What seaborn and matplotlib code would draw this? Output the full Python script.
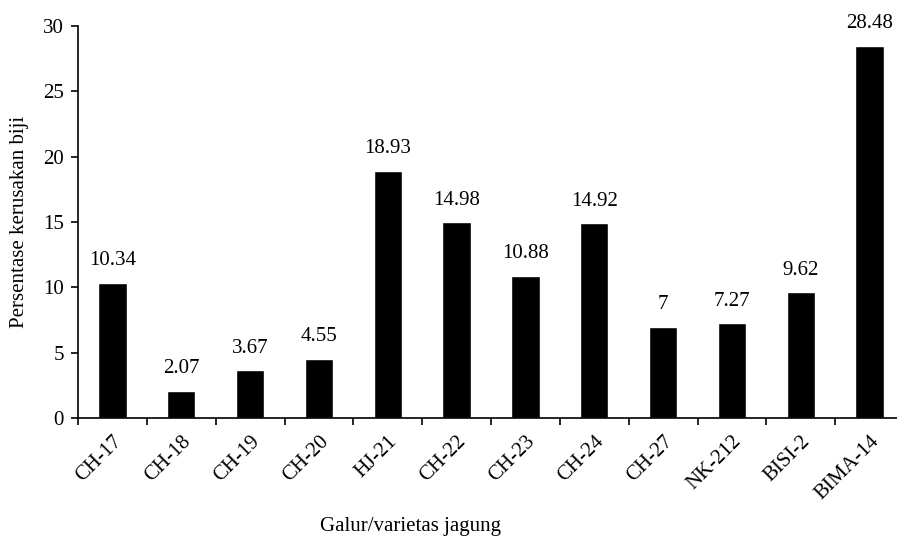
import matplotlib
matplotlib.use("Agg")
import matplotlib.pyplot as plt
import seaborn as sns
import pandas as pd
from matplotlib.ticker import FixedLocator

categories = ["CH-17", "CH-18", "CH-19", "CH-20", "HJ-21", "CH-22", "CH-23",
              "CH-24", "CH-27", "NK-212", "BISI-2", "BIMA-14"]
values = [10.34, 2.07, 3.67, 4.55, 18.93, 14.98, 10.88, 14.92, 7, 7.27, 9.62, 28.48]
value_labels = ["10.34", "2.07", "3.67", "4.55", "18.93", "14.98", "10.88",
                "14.92", "7", "7.27", "9.62", "28.48"]
y_ticks = [0, 5, 10, 15, 20, 25, 30]

sns.set_theme(style="white")
plt.rcParams['font.family'] = ['Liberation Serif', 'DejaVu Serif']

FS = 15

df = pd.DataFrame({"cat": categories, "val": values})

fig = plt.figure(figsize=(8.97, 5.39), dpi=100)
ax = fig.add_axes([78/897, 1-418/539, (904-78)/897, (418-26)/539])

sns.barplot(data=df, x="cat", y="val", color="black", width=0.41,
            saturation=1, ax=ax)

ax.bar_label(ax.containers[0], labels=value_labels, padding=9,
             fontsize=FS, color="black")

ax.set_xlim(-0.5, len(categories) - 0.5)
ax.set_ylim(0, 30)
ax.set_yticks(y_ticks)
ax.set_yticklabels([str(t) for t in y_ticks], fontsize=FS, color="black")
ax.set_xticks(range(len(categories)))
ax.set_xticklabels(categories, rotation=45, ha="right", rotation_mode="anchor",
                   fontsize=FS, color="black")
ax.xaxis.set_minor_locator(FixedLocator([i - 0.5 for i in range(len(categories) + 1)]))
ax.tick_params(axis="x", which="major", length=0, pad=10)
ax.tick_params(axis="x", which="minor", length=5, width=1.2, direction="out",
               color="black", bottom=True)
ax.tick_params(axis="y", which="major", length=5, width=1.2, direction="out",
               color="black", left=True, pad=5)

for s in ["top", "right"]:
    ax.spines[s].set_visible(False)
for s in ["left", "bottom"]:
    ax.spines[s].set_color("black")
    ax.spines[s].set_linewidth(1.2)

ax.set_ylabel("Persentase kerusakan biji", fontsize=FS, color="black", labelpad=10)
ax.set_xlabel("")
fig.text(411/897, 1-527/539, "Galur/varietas jagung", fontsize=FS,
         ha="center", va="center", color="black")

fig.savefig("out.png", dpi=100)
